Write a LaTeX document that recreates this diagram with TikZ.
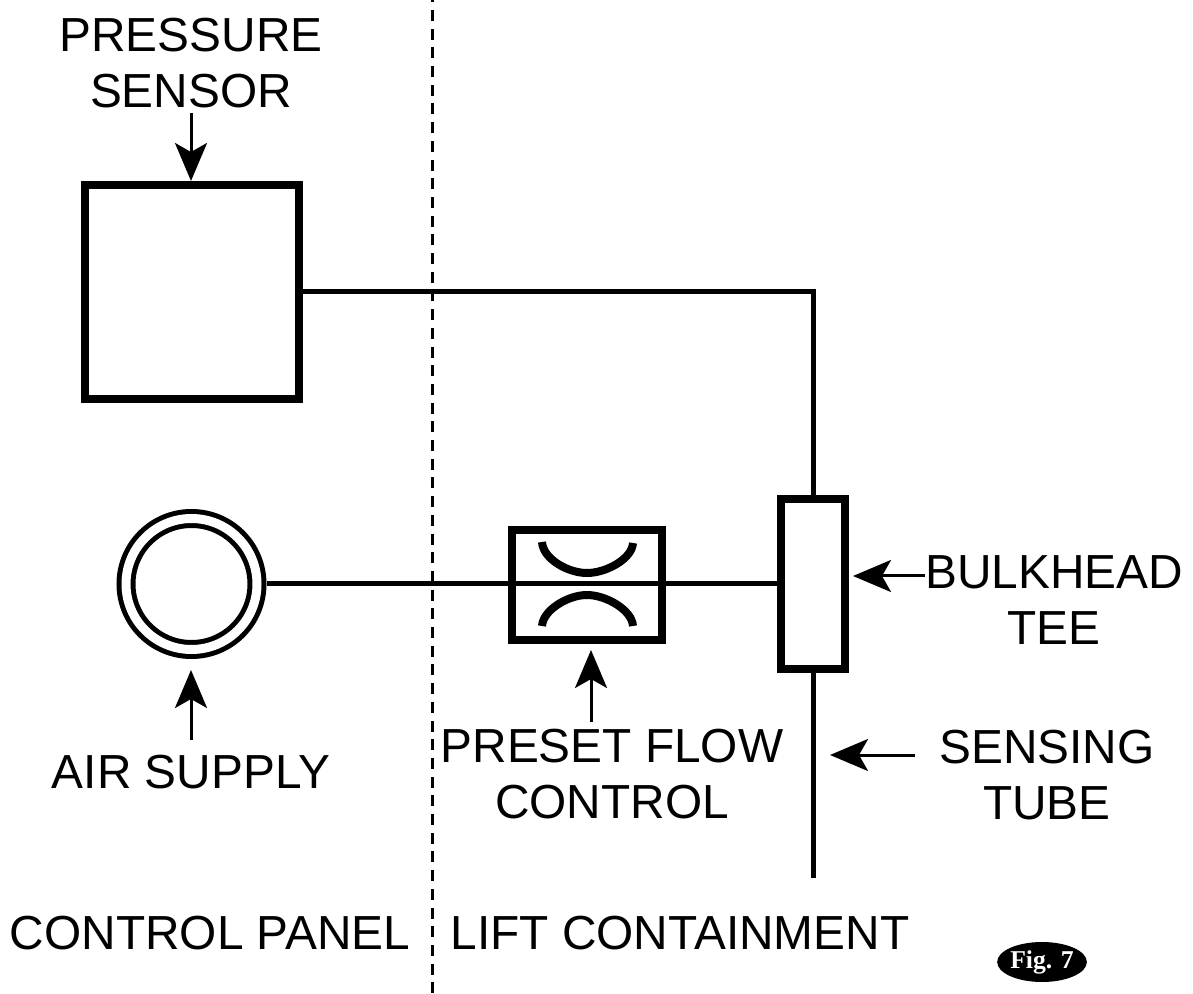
\documentclass[tikz,border=0pt]{standalone}
\usepackage{fontspec}
\setmainfont{Liberation Sans}
\newfontfamily\figfont{Liberation Serif}
\usetikzlibrary{positioning, shapes, arrows.meta, calc}

\begin{document}
\begin{tikzpicture}[
    device/.style={rectangle, draw=black, line width=0.08cm},
    ring/.style={circle, draw=black, line width=0.05cm, minimum size=1.31cm, outer sep=0.095cm, double=white, double distance=0.09cm},
    tubing/.style={line width=0.05cm},
    arrow/.style={-{Stealth[length=0.38cm, width=0.32cm, inset=0.09cm]}, line width=0.03cm},
    caption/.style={font=\fontsize{13.6}{15.9}\selectfont, align=center, inner sep=0pt}
  ]
    \useasboundingbox (0,0) rectangle (11.93,9.93);

    % Panel boundary
    \coordinate (divtop) at (4.32, 9.93);
    \coordinate (divbot) at (4.32, 0);
    \draw[line width=0.03cm, dash pattern=on 0.11cm off 0.077cm, dash phase=0.087cm] (divtop) -- (divbot);

    % Devices
    \node[device, minimum width=2.14cm, minimum height=2.14cm] (sensor) at (1.92, 7.01) {};
    \node[device, minimum width=0.64cm, minimum height=1.69cm] (tee) at (8.13, 4.09) {};
    \node[device, minimum width=1.50cm, minimum height=1.09cm] (flow) at (5.87, 4.08) {};
    \node[ring] (air) at (1.915, 4.09) {};

    % Orifice
    \draw[line width=0.08cm] (5.42, 4.51) .. controls (5.43, 4.34) and (5.68, 4.20) .. (5.87, 4.20)
      .. controls (6.06, 4.20) and (6.32, 4.34) .. (6.33, 4.50);
    \draw[line width=0.08cm] (5.42, 3.67) .. controls (5.43, 3.83) and (5.68, 3.98) .. (5.87, 3.98)
      .. controls (6.06, 3.98) and (6.32, 3.83) .. (6.33, 3.67);

    % Tubing
    \coordinate (tubeend) at (8.13, 1.15);
    \draw[tubing] (sensor.east) -| (tee.north);
    \draw[tubing] (air.east) -- (tee.west);
    \draw[tubing] (tee.south) -- (tubeend);

    % Labels
    \node[caption] (lblsensor) at (1.91, 9.30) {PRESSURE\\SENSOR};
    \node[caption] (lblair) at (1.91, 2.21) {AIR SUPPLY};
    \node[caption] (lblflow) at (6.12, 2.19) {PRESET FLOW\\CONTROL};
    \node[caption] (lbltee) at (10.54, 3.93) {BULKHEAD\\TEE};
    \node[caption] (lbltube) at (10.47, 2.18) {SENSING\\TUBE};
    \node[caption] (lblpanel) at (2.10, 0.60) {CONTROL PANEL};
    \node[caption] (lbllift) at (6.80, 0.60) {LIFT CONTAINMENT};
    \node[ellipse, fill=black, text=white, inner sep=0pt, minimum width=0.88cm, minimum height=0.40cm,
      font=\figfont\bfseries\fontsize{7.3}{8}\selectfont] (figtag) at (10.42, 0.31) {Fig. 7};

    % Pointers
    \coordinate (sensortail) at (1.91, 8.80);
    \coordinate (sensortip) at (1.91, 8.12);
    \coordinate (airtail) at (1.91, 2.53);
    \coordinate (airtip) at (1.91, 3.23);
    \coordinate (flowtail) at (5.91, 2.71);
    \coordinate (flowtip) at (5.91, 3.43);
    \coordinate (teetail) at (9.25, 4.17);
    \coordinate (teetip) at (8.53, 4.17);
    \coordinate (tubetail) at (9.15, 2.38);
    \coordinate (tubetip) at (8.30, 2.38);
    \foreach \a/\b in {sensortail/sensortip, airtail/airtip, flowtail/flowtip, teetail/teetip, tubetail/tubetip} {
      \draw[arrow] (\a) -- (\b);
    }
  \end{tikzpicture}
\end{document}
